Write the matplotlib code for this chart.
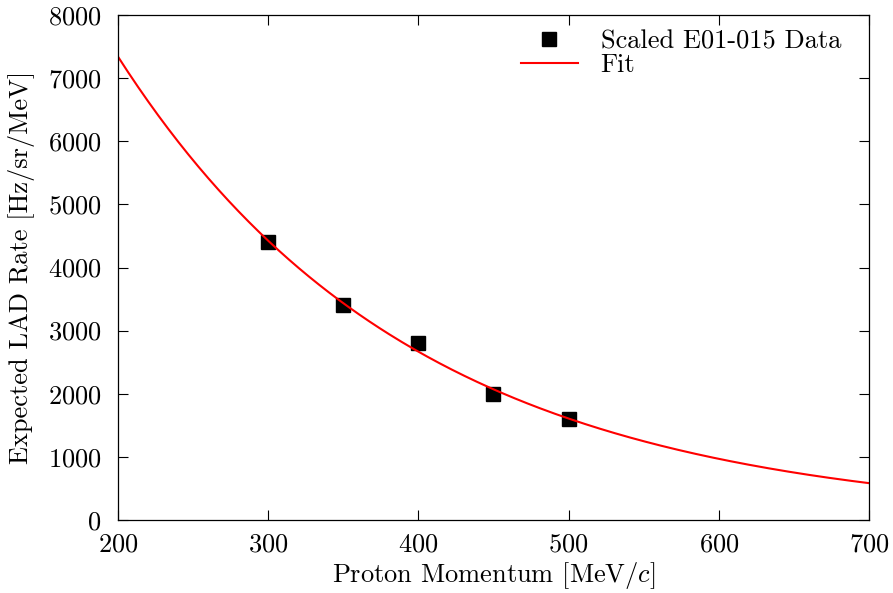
import numpy as np
import matplotlib
matplotlib.use('Agg')
import matplotlib.pyplot as plt

plt.rcParams['font.family'] = ['cmr10', 'DejaVu Serif']
plt.rcParams['mathtext.fontset'] = 'cm'
plt.rcParams['axes.formatter.use_mathtext'] = True
plt.rcParams['font.size'] = 19

# scaled E01-015 data points
momentum = [300, 350, 400, 450, 500]
rate = [4400, 3400, 2800, 2000, 1600]

# exponential fit, done on the data (weighted so it acts like a linear-space fit)
p = np.polyfit(momentum, np.log(rate), 1, w=np.sqrt(rate))
x_fit = np.linspace(200, 700, 300)
y_fit = np.exp(np.polyval(p, x_fit))

fig = plt.figure(figsize=(8.93, 5.93), dpi=100)
ax = fig.add_axes([0.1321, 0.1231, 0.841, 0.8516])

ax.plot(momentum, rate, 's', color='black', markersize=9.5, label='Scaled E01-015 Data')
ax.plot(x_fit, y_fit, color='red', linewidth=1.5, label='Fit')

ax.set_xlim(200, 700)
ax.set_ylim(0, 8000)
ax.set_xticks(range(200, 701, 100))
ax.set_yticks(range(0, 8001, 1000))
ax.tick_params(direction='in', top=True, right=True, length=7, width=0.8)
ax.tick_params(axis='x', pad=9)
ax.tick_params(axis='y', pad=12)
for s in ax.spines.values():
    s.set_linewidth(0.9)

ax.set_xlabel('Proton Momentum [MeV/$c$]', labelpad=3)
ax.set_ylabel('Expected LAD Rate [Hz/sr/MeV]', labelpad=9)

ax.legend(loc='upper right', bbox_to_anchor=(1.0, 1.026), frameon=False,
          handlelength=2.15, handletextpad=0.87, labelspacing=0.0,
          borderaxespad=0.66)

fig.savefig('out.png', dpi=100)
